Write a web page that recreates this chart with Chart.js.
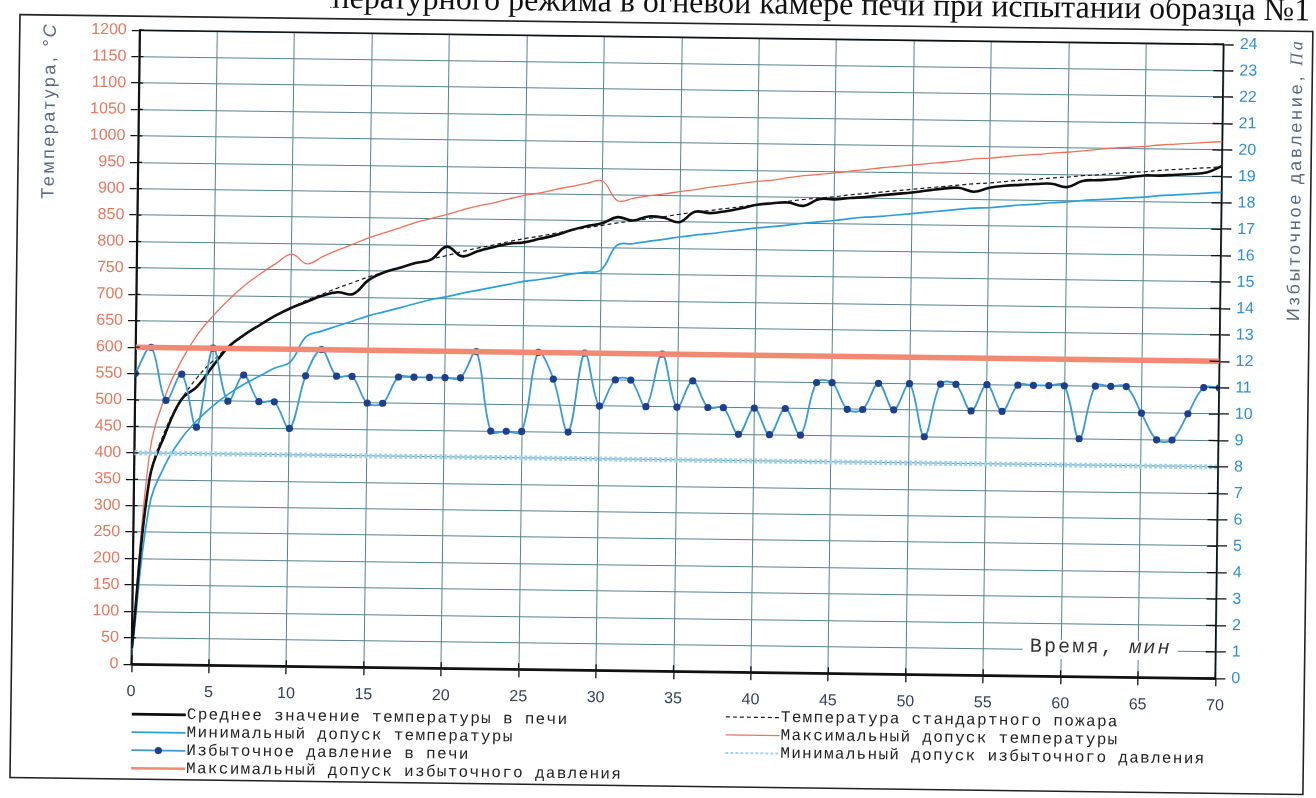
<!DOCTYPE html>
<html><head><meta charset="utf-8">
<script src="https://cdn.jsdelivr.net/npm/chart.js@4.4.1/dist/chart.umd.min.js"></script>
<style>html,body{margin:0;padding:0;background:#fff;}canvas{display:block;}</style>
</head><body>
<canvas id="c" width="1316" height="798"></canvas>
<script>
// ---------- data ----------
const minutes = [0,1,2,3,4,5,6,7,8,9,10,11,12,13,14,15,16,17,18,19,20,21,22,23,24,25,26,27,28,29,30,31,32,33,34,35,36,37,38,39,40,41,42,43,44,45,46,47,48,49,50,51,52,53,54,55,56,57,58,59,60,61,62,63,64,65,66,67,68,69,70];
const tempAvg = [30,350,438,502,527,566,603,626,645,663,678,690,702,709,706,733,748,757,766,773,798,780,790,798,805,808,815,822,832,840,846,858,852,860,858,850,870,868,872,878,885,888,890,884,897,897,900,902,906,909,912,916,920,922,915,923,927,929,931,932,926,938,940,942,946,950,950,952,954,957,970];
const tempStandard = [20,349,445,502,544,576,603,626,645,663,678,693,705,717,728,739,748,757,766,774,781,789,796,802,809,815,820,826,832,837,842,847,851,856,860,865,869,873,877,881,885,888,892,896,899,902,906,909,912,915,918,921,924,927,930,932,935,938,940,943,945,948,950,953,955,957,960,962,964,966,968];
const tempMax = [23,401,512,577,626,662,693,720,742,762,780,762,776,789,801,813,823,833,843,851,859,868,876,882,890,897,902,909,915,921,926,889,894,899,903,908,912,917,921,925,929,932,937,941,944,947,951,954,958,961,964,967,970,973,977,979,982,985,987,990,992,995,998,1001,1003,1005,1008,1010,1012,1014,1016];
const tempMin = [17,297,378,427,462,490,513,532,548,564,576,624,635,645,655,665,673,681,689,697,703,710,716,722,728,734,738,743,749,753,758,805,808,813,817,822,826,829,833,837,841,844,847,851,854,857,861,864,866,869,872,875,878,881,884,885,888,891,893,896,898,901,903,905,907,909,912,914,916,918,920];
const pressure = [11,12,10,11,9,12,10,11,10,10,9,11,12,11,11,10,10,11,11,11,11,11,12,9,9,9,12,11,9,12,10,11,11,10,12,10,11,10,10,9,10,9,10,9,11,11,10,10,11,10,11,9,11,11,10,11,10,11,11,11,11,9,11,11,11,10,9,9,10,11,11];
const limitMinutes = [0, 70];
const pressureMaxLimit = [12, 12];
const pressureMinLimit = [8, 8];
const tempTicks = {min: 0, max: 1200, step: 50};
const pressureTicks = {min: 0, max: 24, step: 1};
const timeTicks = {min: 0, max: 70, step: 5};

const LBL_AVG = 'Среднее значение температуры в печи';
const LBL_MINT = 'Минимальный допуск температуры';
const LBL_P = 'Избыточное давление в печи';
const LBL_PMAX = 'Максимальный допуск избыточного давления';
const LBL_STD = 'Температура стандартного пожара';
const LBL_MAXT = 'Максимальный допуск температуры';
const LBL_PMIN = 'Минимальный допуск избыточного давления';
const TITLE = 'График температурного режима в огневой камере печи при испытании образца №1';

// ---------- layout / style ----------
const ANG = 0.75 * Math.PI / 180;
const CX = 658, CY = 399;
const PLOT = {left: 135, right: 1219, top: 37, bottom: 671};
const GRID = '#55838f';
const pts = (xs, ys) => ys.map((v, i) => ({x: xs[i], y: v}));

const datasets = [
  {label: LBL_PMAX, data: pts(limitMinutes, pressureMaxLimit), yAxisID: 'y1', borderColor: '#f28a73', borderWidth: 5.5, pointRadius: 0, order: 0, legendWidth: 2.5},
  {label: LBL_P, data: pts(minutes, pressure), yAxisID: 'y1', borderColor: '#3a9ad2', borderWidth: 1.8, pointRadius: 3.6, pointBackgroundColor: '#1d3f8e', pointBorderColor: '#1d3f8e', pointBorderWidth: 0, tension: 0.35, order: 1},
  {label: LBL_PMIN, data: pts(limitMinutes, pressureMinLimit), yAxisID: 'y1', borderColor: '#a3d3ea', borderWidth: 5, borderDash: [3, 2], pointRadius: 0, order: 2, legendWidth: 2},
  {label: LBL_STD, data: pts(minutes, tempStandard), yAxisID: 'y', borderColor: '#1a1a1a', borderWidth: 1.2, borderDash: [4, 3], pointRadius: 0, tension: 0.4, order: 3},
  {label: LBL_AVG, data: pts(minutes, tempAvg), yAxisID: 'y', borderColor: '#0d0d0d', borderWidth: 2.6, pointRadius: 0, tension: 0.4, order: 4},
  {label: LBL_MAXT, data: pts(minutes, tempMax), yAxisID: 'y', borderColor: '#f0705c', borderWidth: 1.3, pointRadius: 0, tension: 0.4, order: 5},
  {label: LBL_MINT, data: pts(minutes, tempMin), yAxisID: 'y', borderColor: '#2c9fda', borderWidth: 1.7, pointRadius: 0, tension: 0.4, order: 6}
];

const legendLayout = [
  {label: LBL_AVG, x: 136, y: 721},
  {label: LBL_MINT, x: 136, y: 739},
  {label: LBL_P, x: 136, y: 757},
  {label: LBL_PMAX, x: 136, y: 775},
  {label: LBL_STD, x: 730, y: 716},
  {label: LBL_MAXT, x: 730, y: 734},
  {label: LBL_PMIN, x: 730, y: 752}
];

function rotText(ctx, parts, cx, top, spacing) {
  // text reading bottom-to-top, its end at 'top'
  let total = 0;
  ctx.letterSpacing = spacing + 'px';
  parts.forEach(p => { ctx.font = p.font; p.w = ctx.measureText(p.t).width; total += p.w; });
  ctx.save();
  ctx.translate(cx, top + total);
  ctx.rotate(-Math.PI / 2);
  ctx.textBaseline = 'middle';
  ctx.textAlign = 'left';
  let x = 0;
  parts.forEach(p => { ctx.font = p.font; ctx.fillText(p.t, x, 0); x += p.w; });
  ctx.restore();
  ctx.letterSpacing = '0px';
}

function drawExtras(chart) {
  const ctx = chart.ctx;
  const a = chart.chartArea;
  const sx = chart.scales.x, sy = chart.scales.y, sy1 = chart.scales.y1;
  ctx.save();
  // top border
  ctx.strokeStyle = '#111'; ctx.lineWidth = 1.6; ctx.setLineDash([]);
  ctx.beginPath(); ctx.moveTo(a.left, a.top); ctx.lineTo(a.right, a.top); ctx.stroke();
  // inward tick parts
  ctx.lineWidth = 1.3;
  ctx.beginPath();
  sx.ticks.forEach(t => { const px = sx.getPixelForValue(t.value); ctx.moveTo(px, a.bottom); ctx.lineTo(px, a.bottom - 6); });
  sy1.ticks.forEach(t => { const py = sy1.getPixelForValue(t.value); ctx.moveTo(a.right, py); ctx.lineTo(a.right - 10, py); });
  sy.ticks.forEach(t => { const py = sy.getPixelForValue(t.value); ctx.moveTo(a.left, py); ctx.lineTo(a.left + 4, py); });
  ctx.stroke();

  // x-axis title inside plot
  const gy = sy.getPixelForValue(50);
  ctx.fillStyle = '#fff';
  ctx.fillRect(1026, gy - 10, 155, 19);
  ctx.fillStyle = '#333';
  ctx.textBaseline = 'middle'; ctx.textAlign = 'left';
  ctx.letterSpacing = '2.2px';
  ctx.font = '20px "Liberation Mono"';
  const t1 = 'Время, ';
  ctx.fillText(t1, 1033, gy - 3);
  const w1 = ctx.measureText(t1).width;
  ctx.font = 'italic 20px "Liberation Mono"';
  ctx.fillText('мин', 1033 + w1, gy - 3);
  ctx.letterSpacing = '0px';

  // axis titles
  ctx.fillStyle = '#5a6b7e';
  rotText(ctx, [{t: 'Температура, ', font: '18px "Liberation Sans"'}, {t: '°C', font: 'italic 18px "Liberation Sans"'}], 46, 30, 2.5);
  rotText(ctx, [{t: 'Избыточное давление, ', font: '18px "Liberation Sans"'}, {t: 'Па', font: 'italic 18px "Liberation Serif"'}], 1293, 30, 2.8);

  // legend
  legendLayout.forEach(item => {
    const d = chart.data.datasets.find(s => s.label === item.label);
    ctx.save();
    ctx.strokeStyle = d.borderColor;
    ctx.lineWidth = d.legendWidth || Math.min(d.borderWidth, 2.6);
    ctx.setLineDash(d.borderDash || []);
    ctx.beginPath(); ctx.moveTo(item.x, item.y); ctx.lineTo(item.x + 54, item.y); ctx.stroke();
    if (d.pointRadius) {
      ctx.fillStyle = d.pointBackgroundColor;
      ctx.beginPath(); ctx.arc(item.x + 27, item.y, 3.6, 0, Math.PI * 2); ctx.fill();
    }
    ctx.restore();
    ctx.fillStyle = '#222'; ctx.textBaseline = 'middle'; ctx.textAlign = 'left';
    ctx.letterSpacing = '1.3px';
    ctx.font = '16px "Liberation Mono"';
    ctx.fillText(item.label, item.x + 55, item.y);
    ctx.letterSpacing = '0px';
  });

  // chart title (its left part is lost at the torn top edge of the scan)
  ctx.save();
  ctx.beginPath(); ctx.rect(325, -60, 1000, 90); ctx.clip();
  ctx.fillStyle = '#111';
  ctx.font = '32px "Liberation Serif"';
  ctx.textAlign = 'right'; ctx.textBaseline = 'alphabetic';
  ctx.fillText(TITLE, 1305, 12);
  ctx.restore();

  // outer frame
  ctx.strokeStyle = '#222'; ctx.lineWidth = 1.6;
  ctx.strokeRect(15, 23, 1293, 763);
  ctx.restore();
}

const scanPlugin = {
  id: 'scan',
  beforeDraw(chart) {
    const c = chart.ctx;
    c.save();
    c.translate(CX, CY); c.rotate(ANG); c.translate(-CX, -CY);
  },
  afterDraw(chart) {
    drawExtras(chart);
    chart.ctx.restore();
  }
};

const plain = v => String(v);

new Chart(document.getElementById('c'), {
  type: 'line',
  data: {datasets},
  options: {
    responsive: false,
    animation: false,
    devicePixelRatio: 1,
    layout: {padding: {top: PLOT.top, left: 0, right: 0, bottom: 0}},
    plugins: {legend: {display: false}, tooltip: {enabled: false}, title: {display: false}},
    elements: {line: {fill: false}},
    scales: {
      x: {
        type: 'linear', min: timeTicks.min, max: timeTicks.max,
        ticks: {stepSize: timeTicks.step, callback: plain, color: '#34405a', font: {family: 'Liberation Sans', size: 16}, padding: 10, maxRotation: 0},
        grid: {color: GRID, lineWidth: 1, tickColor: '#111', tickLength: 8, tickWidth: 1.3},
        border: {color: '#111', width: 2.6},
        afterFit(s) { s.height = 798 - PLOT.bottom; }
      },
      y: {
        type: 'linear', position: 'left', min: tempTicks.min, max: tempTicks.max,
        ticks: {stepSize: tempTicks.step, callback: plain, color: '#e5775f', font: {family: 'Liberation Sans', size: 16}, padding: 5},
        grid: {color: GRID, lineWidth: 1, tickColor: '#111', tickLength: 8, tickWidth: 1.3},
        border: {color: '#111', width: 2.2},
        afterFit(s) { s.width = PLOT.left; }
      },
      y1: {
        type: 'linear', position: 'right', min: pressureTicks.min, max: pressureTicks.max,
        ticks: {stepSize: pressureTicks.step, callback: plain, color: '#2f8ed0', font: {family: 'Liberation Sans', size: 16}, padding: 6},
        grid: {drawOnChartArea: false, tickColor: '#111', tickLength: 10, tickWidth: 1.3},
        border: {color: '#111', width: 1.6},
        afterFit(s) { s.width = 1316 - PLOT.right; }
      }
    }
  },
  plugins: [scanPlugin]
});
</script>
</body></html>
